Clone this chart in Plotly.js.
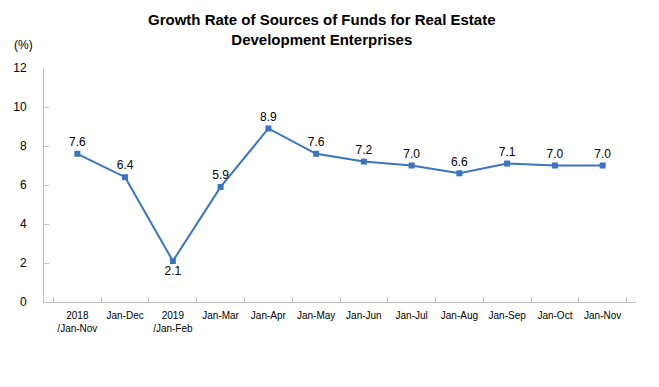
<!DOCTYPE html>
<html><head><meta charset="utf-8">
<script src="https://cdn.plot.ly/plotly-3.0.1.min.js"></script>
<style>body{margin:0;background:#fff}#c{width:659px;height:387px}</style>
</head><body><div id="c"></div>
<script>
const categories = ["2018<br>/Jan-Nov","Jan-Dec","2019<br>/Jan-Feb","Jan-Mar","Jan-Apr","Jan-May","Jan-Jun","Jan-Jul","Jan-Aug","Jan-Sep","Jan-Oct","Jan-Nov"];
const values = [7.6, 6.4, 2.1, 5.9, 8.9, 7.6, 7.2, 7.0, 6.6, 7.1, 7.0, 7.0];
const labelPos = values.map((v,i)=> i===2 ? "bottom center" : "top center");
const trace = {
  x: categories, y: values, type: "scatter", mode: "lines+markers+text",
  text: values.map(v=>v.toFixed(1)), textposition: labelPos,
  textfont: {family: "Liberation Sans, Arial", size: 12, color: "#000"},
  line: {color: "#3a74c2", width: 2},
  marker: {symbol: "square", size: 6, color: "#3a74c2"},
  cliponaxis: false, hoverinfo: "none"
};
const layout = {
  width: 659, height: 387,
  margin: {l: 44, r: 23, t: 68, b: 85},
  paper_bgcolor: "#fff", plot_bgcolor: "#fff",
  showlegend: false,
  font: {family: "Liberation Sans, Arial", color: "#000"},
  xaxis: {type: "category", showline: true, linecolor: "#bfbfbf", linewidth: 1,
    ticks: "inside", ticklen: 5, tickcolor: "#bfbfbf", tickson: "boundaries",
    tickangle: 0, ticklabelstandoff: 4,
    showgrid: false, zeroline: false, tickfont: {size: 10}, fixedrange: true},
  yaxis: {range: [0, 12], dtick: 2, showline: true, linecolor: "#bfbfbf", linewidth: 1,
    ticks: "inside", ticklen: 5, tickcolor: "#bfbfbf", showgrid: false, zeroline: false,
    ticklabelstandoff: 14, tickfont: {size: 12}, fixedrange: true},
  annotations: [
    {text: "<b>Growth Rate of Sources of Funds for Real Estate<br>Development Enterprises</b>",
     xref: "paper", yref: "paper", x: (322-44)/592, y: (302-30)/234, xanchor: "center", yanchor: "middle",
     showarrow: false, font: {size: 15, color: "#000"}},
    {text: "(%)", xref: "paper", yref: "paper", x: -0.035, y: 1.098,
     xanchor: "center", yanchor: "middle", showarrow: false, font: {size: 12}}]
};
Plotly.newPlot("c", [trace], layout, {staticPlot: true, displayModeBar: false});
</script></body></html>
